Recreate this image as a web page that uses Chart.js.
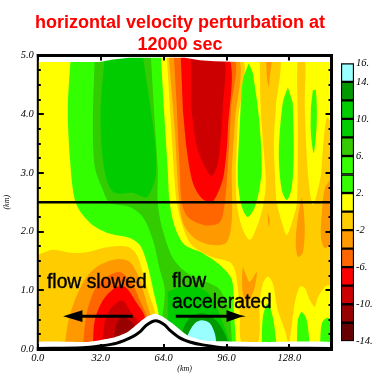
<!DOCTYPE html>
<html><head><meta charset="utf-8">
<style>html,body{margin:0;padding:0;background:#fff;overflow:hidden}
#wrap{position:relative;width:387px;height:381px}
canvas{position:absolute;left:0;top:0}
#bar{left:336px;top:55px}</style>
<script src="https://cdn.jsdelivr.net/npm/chart.js@4"></script>
</head><body><div id="wrap"><canvas id="main" width="387" height="381"></canvas><canvas id="bar" width="51" height="296"></canvas></div>
<script>
const titleLines=["horizontal velocity perturbation at","12000 sec"];
const xTickValues=[0,32,64,96,128];
const xMax=149.4, yMax=5;
const colorLevels=[-14,-12,-10,-8,-6,-4,-2,0,2,4,6,8,10,12,14,16];
const levelColors=["#660000","#990000","#cc0000","#ff0000","#ff6600","#ff9900","#ffcc00","#ffff00","#33ff00","#33ff00","#33cc00","#00cc00","#00cc00","#009900","#99ffff"];
const barTickValues=[16,14,10,6,2,-2,-6,-10,-14];
const barTickLabels=["16.","14.","10.","6.","2.","-2","-6.","-10.","-14."];

const fieldBase=[[0,0],[149.4,0],[149.4,5],[0,5]];
const goldRight=[[65.6,5],[103.3,5],[101.7,3.85],[101,3.27],[100.7,3.05],[101.2,2.49],[103.8,2.08],[107.8,1.86],[111.4,2.08],[114.5,2.42],[116,2.83],[114.5,3.56],[113.4,4.12],[112.9,4.87],[112.9,5],[123.1,5],[121.1,4.12],[120.1,3.56],[120.6,3],[121.6,2.49],[124.6,2.11],[126.7,1.94],[129.7,2.2],[131.8,2.49],[132.3,3.73],[132.3,5],[135.8,5],[135.8,4.12],[137.4,3],[139.9,2.45],[142.4,2.71],[144,2.96],[145,3.39],[147,3.94],[149.4,3.82],[149.4,1.12],[146,1.06],[142.4,.87],[140.9,.72],[138.4,.83],[135.8,1.04],[133.3,1.06],[130.7,.78],[127.7,.1],[125.7,.32],[122.1,.66],[119.5,1.12],[117,1.23],[114.5,1.12],[112.9,.78],[111.9,.1],[103.8,.1],[102.8,.61],[101.7,1.06],[100.2,1.35],[97.7,1.48],[87.5,1.58],[78.3,1.77],[73.8,2.08],[70.7,2.49],[69.2,3.05],[67.7,3.85]];
const goldLeft=[[0,1.6],[7.6,1.69],[16.3,1.64],[24.9,1.65],[36.6,1.74],[45.8,1.74],[50.4,1.6],[53.4,1.3],[57,.89],[59.5,.63],[59.5,.07],[0,.07]];
const amberLeft=[[13.7,.05],[15.3,.44],[18.8,.83],[24.9,1.23],[31.5,1.43],[40.2,1.53],[46.8,1.48],[51.9,1.18],[55.4,.78],[58,.49],[58,.05]];
const orangeLeft=[[22.9,.05],[24.9,.61],[29,1.01],[35.1,1.23],[41.7,1.31],[47.8,1.12],[51.9,.83],[56,.49],[56,.05]];
const redLeft=[[28,.05],[29,.49],[33.1,.83],[39.2,1.04],[44.3,1.06],[50.4,.78],[54.4,.55],[54.4,.05]];
const crimsonLeft=[[32.6,.05],[35.1,.58],[42.7,.83],[48.3,.58],[52.9,.41],[52.9,.05]];
const maroonLeft=[[38.2,.05],[40.2,.44],[43.2,.55],[48.3,.44],[50.9,.29],[50.9,.05]];
const greenMain=[[16.8,5],[15.3,4.12],[16.3,3.27],[19.3,2.49],[26.5,2.15],[35.1,1.98],[46.8,1.89],[51.9,1.77],[55.4,1.48],[59.5,.89],[61.6,.56],[61.6,.05],[100.7,.05],[100.7,.15],[99.7,.66],[98.7,1.18],[92.6,1.43],[83.4,1.64],[74.8,1.77],[69.7,2.08],[67.1,2.49],[66.1,3.05],[64.6,3.85],[62.6,5]];
const greenMid=[[29,5],[28,3.85],[29,3.1],[33.1,2.71],[36.6,2.49],[46.8,2.42],[53.4,2.25],[58.5,1.86],[62.1,1.35],[64.6,1.01],[64.6,.05],[98.7,.05],[98.7,.15],[97.2,.66],[92.6,1.01],[86,1.14],[75.8,1.3],[68.7,1.55],[63.1,2.08],[61,2.49],[61,3.05],[59.5,3.85],[57.5,5]];
const greenDeepTop=[[34.1,5],[32,4.12],[32.6,3.39],[35.1,2.88],[39.2,2.66],[48.3,2.66],[55.4,2.59],[60,2.96],[59.5,3.56],[56,4.41],[53.4,5]];
const greenDeepLow=[[66.1,.97],[72.2,1.06],[80.9,1.06],[87.5,.92],[93.6,.49],[96.7,.05],[66.1,.05]];
const forestLow=[[72.7,.05],[73.8,.32],[77.3,.53],[83.9,.61],[90.6,.49],[95.1,.26],[97.2,.05]];
const cyanLow=[[75.8,.05],[76.3,.24],[79.9,.44],[83.4,.49],[87.5,.44],[90,.27],[91.1,.05]];
const amberCentre=[[66.6,5],[101.2,5],[100.2,3.85],[98.7,3.05],[98.7,2.2],[96.1,1.82],[89,1.77],[80.9,1.86],[74.8,2.08],[72.2,2.42],[69.7,3.73]];
const orangeCentre=[[69.2,5],[99.2,5],[98.2,4.07],[96.6,3.05],[95.1,2.49],[92.6,2.16],[85,2.11],[76.3,2.25],[73.3,2.49],[72.2,3.05],[70.7,4.12]];
const redCentre=[[72.7,5],[96.7,5],[96.7,3.73],[94.6,2.96],[91.6,2.66],[88.5,2.5],[83.4,2.57],[78.9,2.83],[75.8,3.39],[73.8,4.07]];
const crimsonCentre=[[78,5],[94.1,5],[94.1,4.12],[91.6,3.17],[88.2,2.95],[81.4,3.39],[78,4.12]];
const ovalA=[[107.3,4.87],[104.3,4.58],[102.8,3.85],[101.7,3],[102.2,2.71],[103.8,2.42],[106.8,2.25],[110.4,2.42],[112.9,2.76],[113.9,3.05],[113.4,3.56],[111.9,4.12],[109.4,4.7]];
const ovalB=[[127.2,4.46],[124.6,4.19],[122.6,3.34],[124.1,2.71],[126.7,2.54],[129.2,2.76],[130.2,3.39],[129.7,4.19]];
const ovalC=[[139.9,4.41],[141.4,4.41],[141.9,3.85],[140.4,3.34],[138.9,3.68],[138.9,4.12]];
const amberSpike=[[116,5],[119,5],[118,4.63],[117.5,4.46],[116.5,4.63]];
const amberSliver=[[117,2.32],[118,2.2],[117.5,2.08],[117,2.2]];
const amberStripe=[[134.3,2.59],[132.3,2.25],[131.2,1.81],[132.3,1.57],[134.8,1.64],[135.8,2.03],[135.3,2.37]];
const amberEdge=[[149.4,2.91],[146,2.74],[144.5,2.32],[144,1.91],[146,1.72],[149.4,1.82]];
const amberPatch=[[104.3,1.4],[106.3,1.23],[107.8,1.14],[111.4,1.31],[110.4,1.06],[108.9,.92],[106.3,.8],[104.3,.95],[103.8,1.23]];
const humpA=[[113.9,.05],[114.5,.55],[117,.78],[119.5,.55],[121.6,.05]];
const humpB=[[131.8,.05],[132.3,.49],[134.3,.63],[136.8,.49],[138.4,.05]];
const humpC=[[143.5,.05],[144.5,.44],[147,.53],[149.4,.49],[149.4,.05]];
const maskBottom=[[0,0],[0,.12],[24.9,.12],[31.5,.15],[38.2,.19],[45.3,.28],[51.9,.46],[55.4,.55],[59.5,.6],[63.6,.55],[68.7,.43],[75.8,.24],[83.9,.15],[94.1,.13],[107.8,.12],[149.4,.12],[149.4,0]];
const maskTop=[[0,5],[149.4,5],[149.4,4.89],[102.8,4.89],[90,4.9],[82.4,4.92],[74.8,4.96],[46.8,4.96],[38.2,4.93],[31.5,4.89],[0,4.89]];
const terrain=[[0,.01],[22.9,.02],[31.5,.05],[40.2,.1],[48.3,.21],[51.9,.29],[55.4,.41],[60,.48],[64.6,.41],[67.1,.32],[72.2,.19],[77.3,.12],[83.9,.07],[96.1,.02],[149.4,.01]];
const midLine=[[0,2.5],[149.4,2.5]];
const arrowLeftShaft=[[22,.56],[48.3,.56]];
const arrowLeftHead=[[12.9,.56],[22.7,.66],[22.7,.46]];
const arrowRightShaft=[[70.2,.56],[97,.56]];
const arrowRightHead=[[105.8,.56],[103,.58],[96,.66],[96,.46],[103,.54]];

const layers=[[fieldBase,"#ffff00",0],[goldRight,"#ffcc00"],[goldLeft,"#ffcc00"],[amberLeft,"#ff9900"],[orangeLeft,"#ff6600"],[redLeft,"#ff0000"],[crimsonLeft,"#cc0000"],[maroonLeft,"#990000"],
[greenMain,"#33ff00"],[greenMid,"#33cc00"],[greenDeepTop,"#00cc00"],[greenDeepLow,"#00cc00"],[forestLow,"#009900"],[cyanLow,"#99ffff"],
[amberCentre,"#ff9900"],[orangeCentre,"#ff6600"],[redCentre,"#ff0000"],[crimsonCentre,"#cc0000"],
[ovalA,"#33ff00"],[ovalB,"#33ff00"],[ovalC,"#33ff00"],[amberSpike,"#ff9900"],[amberSliver,"#ff9900"],[amberStripe,"#ff9900"],[amberEdge,"#ff9900"],[amberPatch,"#ff9900"],[humpA,"#33ff00"],[humpB,"#33ff00"],[humpC,"#33ff00"],
[maskBottom,"#ffffff",.2],[maskTop,"#ffffff",0],[arrowLeftHead,"#000",0],[arrowRightHead,"#000",0]];
const strokes=[[midLine,2.5,0],[terrain,3,.3],[arrowLeftShaft,3,0],[arrowRightShaft,3,0]];

const pts=a=>a.map(p=>({x:p[0],y:p[1]}));
const datasets=[];
layers.forEach(l=>datasets.push({data:pts(l[0]),fill:'shape',backgroundColor:l[1],borderWidth:0,pointRadius:0,tension:l[2]===undefined?.3:l[2]}));
strokes.forEach(s=>datasets.push({data:pts(s[0]),fill:false,borderColor:'#000',borderWidth:s[1],pointRadius:0,tension:s[2]}));
const n=datasets.length;
datasets.forEach((d,i)=>{d.order=n-i;});

const overlay={id:'overlay',afterDatasetsDraw(c){
 const g=c.ctx,a=c.chartArea,xs=c.scales.x,ys=c.scales.y;
 g.save();g.fillStyle='#000';
 g.fillRect(a.left-1,a.top-1.5,a.right-a.left+2.5,3);
 g.fillRect(a.left-1,a.bottom-2,a.right-a.left+2.5,4);
 g.fillRect(a.left-1,a.top-1.5,2,a.bottom-a.top+3);
 g.fillRect(a.right-1.5,a.top-1.5,3,a.bottom-a.top+3);
 xTickValues.forEach(v=>{const p=Math.round(xs.getPixelForValue(v));
  g.fillRect(p-1,a.top,2,5);g.fillRect(p-1,a.bottom-5,2,5);});
 for(let v=0;v<=20;v++){const p=Math.round(ys.getPixelForValue(v/4));const L=v%4===0?6:3;
  g.fillRect(a.left,p-1,L,2);g.fillRect(a.right-L,p-1,L,2);}
 g.font='19.3px "Liberation Sans"';g.textAlign='left';g.textBaseline='alphabetic';g.strokeStyle='#000';g.lineWidth=.4;
 [["flow slowed",47,288],["flow",172,287],["accelerated",172,308]].forEach(t=>{g.fillText(t[0],t[1],t[2]);g.strokeText(t[0],t[1],t[2]);});
 g.fillStyle='#ff0000';g.font='bold 18px "Liberation Sans"';g.textAlign='center';
 g.fillText(titleLines[0],180,28);g.fillText(titleLines[1],180,50);
 g.restore();
}};

const tickFontSpec={family:'"Liberation Serif"',style:'italic',size:10.5};
const axisTitleFont={family:'"Liberation Serif"',style:'italic',size:8};
new Chart(document.getElementById('main'),{type:'line',data:{datasets},plugins:[overlay],options:{
 responsive:false,animation:false,events:[],
 layout:{padding:{top:55.5,right:55.5,left:0,bottom:0}},
 plugins:{legend:{display:false},tooltip:{enabled:false},title:{display:false}},
 scales:{
  x:{type:'linear',min:0,max:xMax,grid:{display:false,drawTicks:false},border:{display:false},
   afterBuildTicks:s=>{s.ticks=xTickValues.map(v=>({value:v}));},
   afterFit:s=>{s.height=32;},
   ticks:{autoSkip:false,maxRotation:0,padding:3,color:'#000',font:tickFontSpec,callback:v=>Number(v).toFixed(1)},
   title:{display:true,text:'(km)',color:'#000',font:axisTitleFont,padding:{top:0,bottom:7}}},
  y:{type:'linear',min:0,max:yMax,grid:{display:false,drawTicks:false},border:{display:false},
   afterFit:s=>{s.width=37.8;},
   ticks:{stepSize:1,padding:4,color:'#000',font:tickFontSpec,callback:v=>Number(v).toFixed(1)},
   title:{display:true,text:'(km)',color:'#000',font:axisTitleFont,padding:{top:2,bottom:0}}}
 }}});

const barData=levelColors.map((c,i)=>({data:[[colorLevels[i],colorLevels[i+1]]],backgroundColor:c,borderColor:'#000',borderWidth:1.5,borderSkipped:false,barPercentage:1,categoryPercentage:1,grouped:false}));
new Chart(document.getElementById('bar'),{type:'bar',data:{labels:['v'],datasets:barData},options:{
 responsive:false,animation:false,events:[],
 layout:{padding:{top:8.3,bottom:9.7,left:5,right:0}},
 plugins:{legend:{display:false},tooltip:{enabled:false}},
 scales:{
  x:{display:false},
  y:{position:'right',min:-14,max:16,grid:{display:false,drawTicks:false},border:{display:false},
   afterBuildTicks:s=>{s.ticks=barTickValues.map(v=>({value:v}));},
   afterFit:s=>{s.width=33;},
   ticks:{autoSkip:false,padding:2,color:'#000',font:tickFontSpec,
    callback:v=>barTickLabels[barTickValues.indexOf(v)]}}
 }}});
</script></body></html>
